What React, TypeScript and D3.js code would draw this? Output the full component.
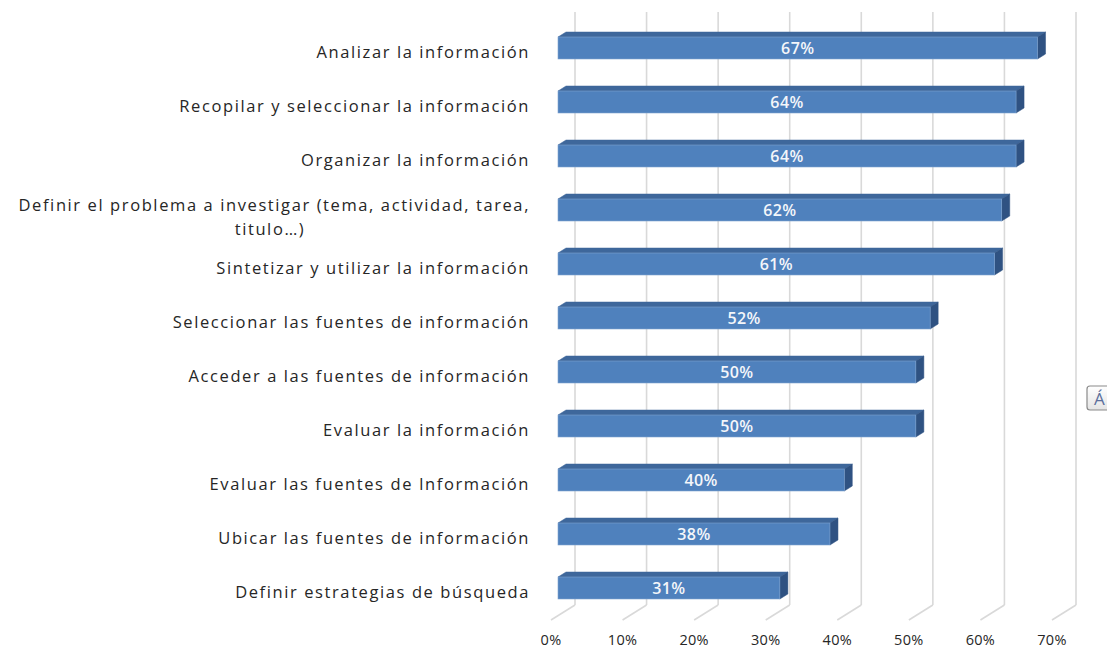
import React from "react";
import * as d3 from "d3";

const categories: string[] = [
  "Analizar la información",
  "Recopilar y seleccionar la información",
  "Organizar la información",
  "Definir el problema a investigar (tema, actividad, tarea,|titulo…)",
  "Sintetizar y utilizar la información",
  "Seleccionar las fuentes de información",
  "Acceder a las fuentes de información",
  "Evaluar la información",
  "Evaluar las fuentes de Información",
  "Ubicar las fuentes de información",
  "Definir estrategias de búsqueda",
];
const values: number[] = [0.67, 0.64, 0.64, 0.62, 0.61, 0.52, 0.5, 0.5, 0.4, 0.38, 0.31];
const ticks: number[] = [0, 0.1, 0.2, 0.3, 0.4, 0.5, 0.6, 0.7];

const W = 1107;
const H = 648;
// 3D geometry
const FLOOR_DX = -24;
const FLOOR_DY = 15;
const BACK_FLOOR_Y = 605;
const TOP_Y = 12;
const BAR_FRONT_DX = -17;
const BAR_DEPTH_X = 8;
const BAR_DEPTH_Y = 5;
const BAR_H = 22;

const FONT = "'Open Sans', 'Noto Sans', sans-serif";
const LABEL_SIZE = 16.5;
const LABEL_LS = 1.6;

export default function App() {
  const x = d3.scaleLinear().domain([0, 0.7]).range([575, 1076]);
  const y = d3.scaleBand<string>().domain(categories).range([21, 615]).padding(0);
  const pct = d3.format(".0%");

  return (
    <svg
      width={W}
      height={H}
      style={{ position: "absolute", left: 0, top: 0, background: "#fff" }}
      xmlns="http://www.w3.org/2000/svg"
    >
      <defs>
        <linearGradient id="btn" x1="0" y1="0" x2="0" y2="1">
          <stop offset="0" stopColor="#ffffff" />
          <stop offset="1" stopColor="#e4e4e4" />
        </linearGradient>
      </defs>
      {/* gridlines: back wall + floor */}
      {ticks.map((t) => (
        <g key={t}>
          <line x1={x(t)} x2={x(t)} y1={TOP_Y} y2={BACK_FLOOR_Y} stroke="#D9D9D9" strokeWidth={1.6} />
          <line
            x1={x(t)}
            y1={BACK_FLOOR_Y}
            x2={x(t) + FLOOR_DX}
            y2={BACK_FLOOR_Y + FLOOR_DY}
            stroke="#D9D9D9"
            strokeWidth={1.6}
          />
          <text
            x={x(t) + FLOOR_DX}
            y={645}
            textAnchor="middle"
            fontFamily={FONT}
            fontSize={14.5}
            letterSpacing={0.3}
            fill="#262626"
          >
            {pct(t)}
          </text>
        </g>
      ))}
      {/* bars */}
      {categories.map((c, i) => {
        const cy = (y(c) as number) + y.bandwidth() / 2;
        const x0 = x(0) + BAR_FRONT_DX;
        const x1 = x(values[i]) + BAR_FRONT_DX;
        const yt = cy - BAR_H / 2;
        const yb = cy + BAR_H / 2;
        const top = `M${x0},${yt}L${x0 + BAR_DEPTH_X},${yt - BAR_DEPTH_Y}L${x1 + BAR_DEPTH_X},${yt - BAR_DEPTH_Y}L${x1},${yt}Z`;
        const side = `M${x1},${yt}L${x1 + BAR_DEPTH_X},${yt - BAR_DEPTH_Y}L${x1 + BAR_DEPTH_X},${yb - BAR_DEPTH_Y}L${x1},${yb}Z`;
        return (
          <g key={c}>
            <path d={top} fill="#3E679B" stroke="#3E679B" strokeWidth={0.5} />
            <path d={side} fill="#2F5282" stroke="#2F5282" strokeWidth={0.5} />
            <rect x={x0} y={yt} width={x1 - x0} height={BAR_H} fill="#4F81BD" stroke="#7FA3D0" strokeWidth={0.6} />
            <text
              x={(x0 + x1) / 2}
              y={cy + 6}
              textAnchor="middle"
              fontFamily={FONT}
              fontWeight={600}
              fontSize={16}
              letterSpacing={0.4}
              fill="#F4F6FA"
            >
              {pct(values[i])}
            </text>
          </g>
        );
      })}
      {/* category labels */}
      {categories.map((c) => {
        const cy = (y(c) as number) + y.bandwidth() / 2;
        const lines = c.split("|");
        if (lines.length === 1) {
          return (
            <text
              key={c}
              x={530}
              y={cy + 10}
              textAnchor="end"
              fontFamily={FONT}
              fontSize={LABEL_SIZE}
              letterSpacing={LABEL_LS}
              fill="#262626"
            >
              {c}
            </text>
          );
        }
        return (
          <g key={c}>
            <text
              x={530}
              y={cy + 1}
              textAnchor="end"
              fontFamily={FONT}
              fontSize={LABEL_SIZE}
              letterSpacing={LABEL_LS}
              fill="#262626"
            >
              {lines[0]}
            </text>
            <text
              x={270}
              y={cy + 25}
              textAnchor="middle"
              fontFamily={FONT}
              fontSize={LABEL_SIZE}
              letterSpacing={LABEL_LS}
              fill="#262626"
            >
              {lines[1]}
            </text>
          </g>
        );
      })}
      {/* partial button at right edge */}
      <rect x={1087} y={386} width={30} height={24} rx={3} fill="url(#btn)" stroke="#8a8a8a" strokeWidth={1.2} />
      <text x={1094} y={405} fontFamily={FONT} fontSize={17} fill="#5b6f9c">
        Á
      </text>
    </svg>
  );
}
